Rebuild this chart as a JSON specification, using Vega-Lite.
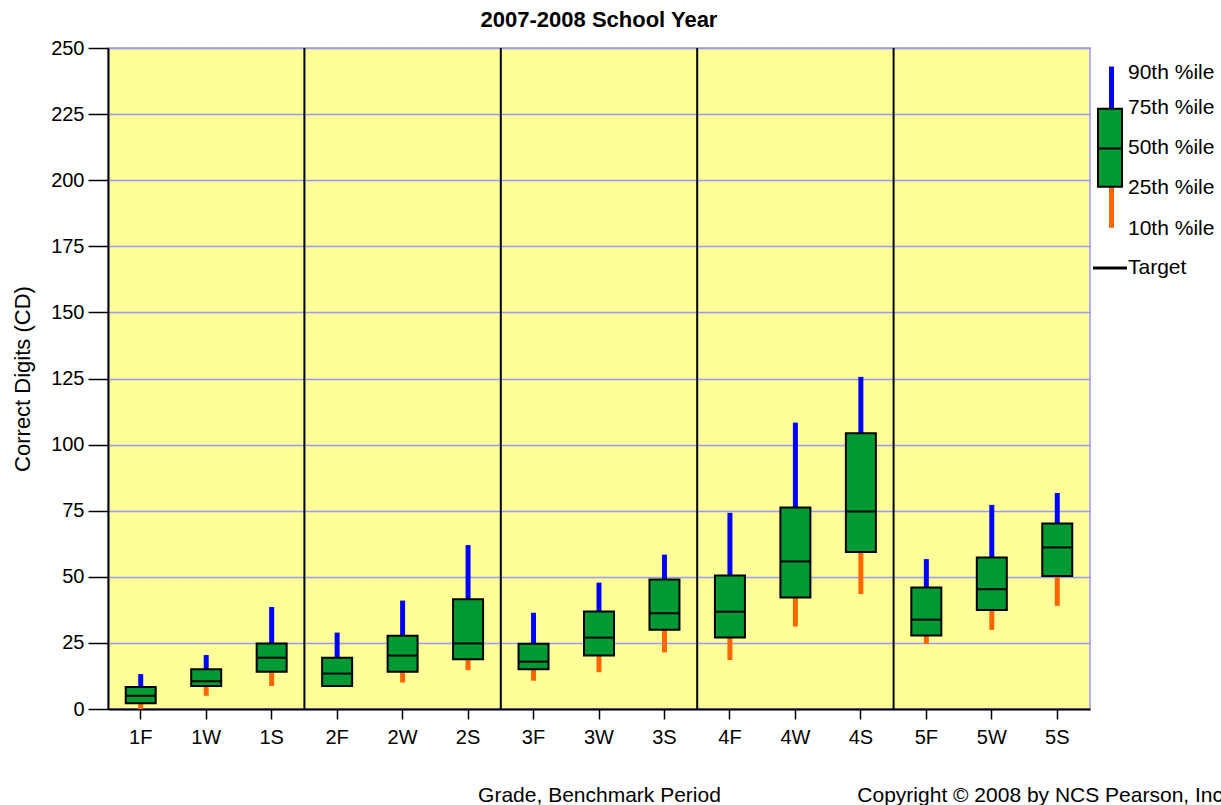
{
  "$schema": "https://vega.github.io/schema/vega-lite/v6.json",
  "background": "white",
  "padding": {"left": 10, "top": 8, "right": 0, "bottom": 0},
  "config": {"font": "Liberation Sans", "view": {"stroke": null}},
  "title": {"text": "Copyright © 2008 by NCS Pearson, Inc", "orient": "bottom", "anchor": "end", "fontSize": 21, "fontWeight": "normal", "offset": -21, "color": "black"},
  "spacing": 0,
  "hconcat": [
    {
      "width": 982,
      "height": 661,
      "title": {"text": "2007-2008 School Year", "fontSize": 22, "fontWeight": "bold", "offset": 6, "anchor": "middle", "color": "black"},
      "view": {"fill": "#ffff99", "stroke": "#9999ff", "strokeWidth": 1.5},
      "data": {"values": [
        {"period": "1F", "p10": 0, "p25": 2.2, "p50": 5, "p75": 8.3, "p90": 13.2},
        {"period": "1W", "p10": 5, "p25": 8.7, "p50": 10.5, "p75": 15, "p90": 20.4},
        {"period": "1S", "p10": 8.7, "p25": 14.1, "p50": 19.4, "p75": 24.8, "p90": 38.6},
        {"period": "2F", "p10": 8.7, "p25": 8.7, "p50": 13.4, "p75": 19.4, "p90": 28.9},
        {"period": "2W", "p10": 10, "p25": 14.1, "p50": 20.2, "p75": 27.7, "p90": 41},
        {"period": "2S", "p10": 14.7, "p25": 18.8, "p50": 24.8, "p75": 41.5, "p90": 62},
        {"period": "3F", "p10": 10.7, "p25": 15, "p50": 17.9, "p75": 24.7, "p90": 36.4},
        {"period": "3W", "p10": 13.9, "p25": 20.2, "p50": 27, "p75": 36.9, "p90": 47.8},
        {"period": "3S", "p10": 21.4, "p25": 30, "p50": 36.2, "p75": 49, "p90": 58.4},
        {"period": "4F", "p10": 18.5, "p25": 27, "p50": 36.8, "p75": 50.5, "p90": 74.2},
        {"period": "4W", "p10": 31.2, "p25": 42.2, "p50": 55.8, "p75": 76.2, "p90": 108.3},
        {"period": "4S", "p10": 43.5, "p25": 59.4, "p50": 74.7, "p75": 104.3, "p90": 125.6},
        {"period": "5F", "p10": 24.6, "p25": 27.8, "p50": 33.8, "p75": 46, "p90": 56.7},
        {"period": "5W", "p10": 29.9, "p25": 37.4, "p50": 45.3, "p75": 57.3, "p90": 77.2},
        {"period": "5S", "p10": 39, "p25": 50.3, "p50": 61.1, "p75": 70.2, "p90": 81.7}
      ]},
      "encoding": {
        "x": {
          "field": "period", "type": "nominal",
          "scale": {"domain": ["1F","1W","1S","2F","2W","2S","3F","3W","3S","4F","4W","4S","5F","5W","5S"], "paddingInner": 0, "paddingOuter": 0},
          "axis": {"title": "Grade, Benchmark Period", "labelAngle": 0, "tickSize": 10, "tickColor": "black", "tickWidth": 1.5, "domainColor": "black", "domainWidth": 2, "labelFontSize": 20, "labelColor": "black", "labelPadding": 8, "titleFontSize": 21, "titleFontWeight": "normal", "titleColor": "black", "titlePadding": 37, "grid": false}
        }
      },
      "layer": [
        {
          "mark": {"type": "bar", "size": 5, "color": "#0000ff"},
          "encoding": {
            "y": {"field": "p75", "type": "quantitative", "scale": {"domain": [0, 250], "nice": false},
              "axis": {"title": "Correct Digits (CD)", "values": [0,25,50,75,100,125,150,175,200,225,250], "grid": true, "gridColor": "#9999ff", "gridWidth": 1.5, "tickSize": 20, "tickColor": "black", "tickWidth": 1.5, "domainColor": "black", "domainWidth": 2, "labelFontSize": 20, "labelColor": "black", "labelPadding": 4, "titleFontSize": 22, "titleFontWeight": "normal", "titleColor": "black", "titlePadding": 16}},
            "y2": {"field": "p90"}
          }
        },
        {
          "mark": {"type": "bar", "size": 5, "color": "#ff6600"},
          "encoding": {
            "y": {"field": "p10", "type": "quantitative"},
            "y2": {"field": "p25"}
          }
        },
        {
          "mark": {"type": "bar", "size": 30, "fill": "#009933", "stroke": "black", "strokeWidth": 2},
          "encoding": {
            "y": {"field": "p25", "type": "quantitative"},
            "y2": {"field": "p75"}
          }
        },
        {
          "mark": {"type": "tick", "size": 30, "thickness": 2, "color": "black", "opacity": 1},
          "encoding": {
            "y": {"field": "p50", "type": "quantitative"}
          }
        },
        {
          "data": {"values": [{"sep": "1S"}, {"sep": "2S"}, {"sep": "3S"}, {"sep": "4S"}]},
          "mark": {"type": "rule", "color": "black", "strokeWidth": 2},
          "encoding": {
            "x": {"field": "sep", "type": "nominal", "bandPosition": 1}
          }
        }
      ]
    },
    {
      "width": 132,
      "height": 661,
      "view": {"stroke": null},
      "layer": [
        {
          "data": {"values": [{"lo": 227, "hi": 243}]},
          "mark": {"type": "rect", "color": "#0000ff"},
          "encoding": {
            "x": {"datum": 18, "type": "quantitative", "scale": {"domain": [0, 132], "nice": false}, "axis": null},
            "x2": {"datum": 23},
            "y": {"field": "lo", "type": "quantitative", "scale": {"domain": [0, 250], "nice": false}, "axis": null},
            "y2": {"field": "hi"}
          }
        },
        {
          "data": {"values": [{"lo": 182, "hi": 197.5}]},
          "mark": {"type": "rect", "color": "#ff6600"},
          "encoding": {
            "x": {"datum": 18, "type": "quantitative"},
            "x2": {"datum": 23},
            "y": {"field": "lo", "type": "quantitative"},
            "y2": {"field": "hi"}
          }
        },
        {
          "data": {"values": [{"lo": 197.5, "hi": 227}]},
          "mark": {"type": "rect", "fill": "#009933", "stroke": "black", "strokeWidth": 2},
          "encoding": {
            "x": {"datum": 7, "type": "quantitative"},
            "x2": {"datum": 31},
            "y": {"field": "lo", "type": "quantitative"},
            "y2": {"field": "hi"}
          }
        },
        {
          "data": {"values": [{"v": 212}]},
          "mark": {"type": "rule", "color": "black", "strokeWidth": 2},
          "encoding": {
            "x": {"datum": 7, "type": "quantitative"},
            "x2": {"datum": 31},
            "y": {"field": "v", "type": "quantitative"}
          }
        },
        {
          "data": {"values": [{"v": 166.8}]},
          "mark": {"type": "rule", "color": "black", "strokeWidth": 3},
          "encoding": {
            "x": {"datum": 2, "type": "quantitative"},
            "x2": {"datum": 36},
            "y": {"field": "v", "type": "quantitative"}
          }
        },
        {
          "data": {"values": [
            {"label": "90th %ile", "v": 240.5},
            {"label": "75th %ile", "v": 227.3},
            {"label": "50th %ile", "v": 212.2},
            {"label": "25th %ile", "v": 197},
            {"label": "10th %ile", "v": 181.5},
            {"label": "Target", "v": 166.8}
          ]},
          "mark": {"type": "text", "align": "left", "baseline": "middle", "fontSize": 21, "color": "black"},
          "encoding": {
            "x": {"datum": 37, "type": "quantitative"},
            "y": {"field": "v", "type": "quantitative"},
            "text": {"field": "label"}
          }
        }
      ]
    }
  ]
}
